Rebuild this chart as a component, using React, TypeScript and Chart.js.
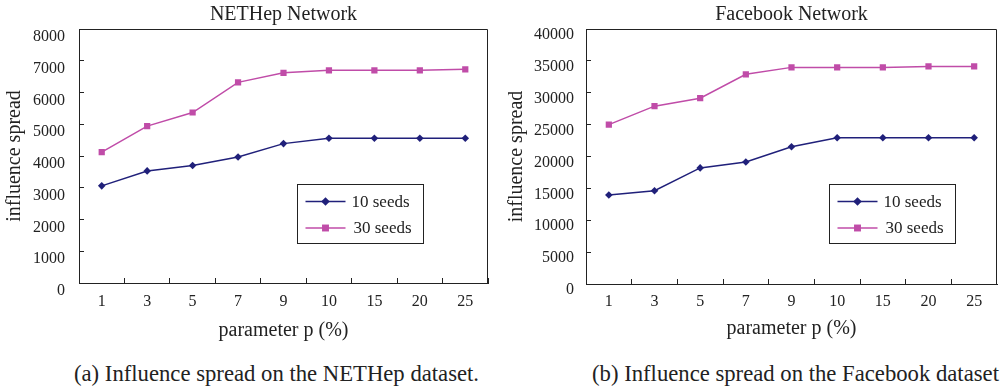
import React, { useEffect, useRef } from 'react';
import { Chart, registerables } from 'chart.js';

Chart.register(...registerables);

const FONT = "'Liberation Serif', 'Times New Roman', serif";
const INK = '#222222';

const categories = ['1', '3', '5', '7', '9', '10', '15', '20', '25'];
const seriesLabels = ['10 seeds', '30 seeds'];
const seriesColors = ['#20207a', '#c04ca8'];

const nethep10 = [3060, 3530, 3700, 3970, 4390, 4560, 4560, 4560, 4560];
const nethep30 = [4120, 4940, 5370, 6320, 6620, 6700, 6700, 6700, 6730];
const facebook10 = [13950, 14630, 18210, 19140, 21530, 22930, 22930, 22930, 22930];
const facebook30 = [25000, 27900, 29150, 32890, 33980, 33980, 33980, 34130, 34130];

const nethepTitle = 'NETHep Network';
const facebookTitle = 'Facebook Network';
const xTitle = 'parameter p (%)';
const yTitle = 'influence spread';
const captionA = '(a) Influence spread on the NETHep dataset.';
const captionB = '(b) Influence spread on the Facebook dataset';

function drawMarker(ctx: CanvasRenderingContext2D, style: string, x: number, y: number, r: number) {
  ctx.beginPath();
  if (style === 'rectRot') {
    ctx.moveTo(x, y - r);
    ctx.lineTo(x + r, y);
    ctx.lineTo(x, y + r);
    ctx.lineTo(x - r, y);
    ctx.closePath();
  } else {
    const s = Math.SQRT1_2 * r;
    ctx.rect(x - s, y - s, 2 * s, 2 * s);
  }
  ctx.fill();
}

const framePlugin = {
  id: 'frameBox',
  afterDatasetsDraw(chart: any) {
    const { ctx, chartArea: a } = chart;
    ctx.save();
    ctx.strokeStyle = INK;
    ctx.lineWidth = 1;
    const t = Math.round(a.top) + 0.5;
    const r = Math.round(a.right) - 0.5;
    ctx.beginPath();
    ctx.moveTo(a.left, t);
    ctx.lineTo(r, t);
    ctx.lineTo(r, a.bottom);
    ctx.stroke();
    ctx.restore();
  },
};

const boxLegendPlugin = {
  id: 'boxLegend',
  afterDraw(chart: any, _args: any, opts: any) {
    const { ctx, chartArea: a } = chart;
    const bx = Math.round(a.left + opts.dx) + 0.5;
    const by = Math.round(a.top + opts.dy) + 0.5;
    ctx.save();
    ctx.fillStyle = '#ffffff';
    ctx.strokeStyle = INK;
    ctx.lineWidth = 1;
    ctx.fillRect(bx, by, opts.w, opts.h);
    ctx.strokeRect(bx, by, opts.w, opts.h);
    chart.data.datasets.forEach((ds: any, i: number) => {
      const y = by + 17 + i * 26.5;
      ctx.strokeStyle = ds.borderColor;
      ctx.lineWidth = ds.borderWidth;
      ctx.beginPath();
      ctx.moveTo(bx + 8, y);
      ctx.lineTo(bx + 48, y);
      ctx.stroke();
      ctx.fillStyle = ds.pointBackgroundColor;
      drawMarker(ctx, ds.pointStyle, bx + 28, y, ds.pointRadius + 0.5);
      ctx.fillStyle = INK;
      ctx.font = `17px ${FONT}`;
      ctx.textBaseline = 'middle';
      ctx.textAlign = 'left';
      ctx.fillText(ds.label, bx + 54 + i * 2, y + 1);
    });
    ctx.restore();
  },
};

type PanelProps = {
  title: string;
  s10: number[];
  s30: number[];
  yMax: number;
  yStep: number;
  width: number;
  padRight: number;
  yWidth: number;
  xHeight: number;
  yLabelPad: number;
  yLabelOffset: number;
  yTitlePad: number;
  xLabelPad: number;
  xTitlePad: number;
  legendDx: number;
  legendDy: number;
};

const HEIGHT = 350;

function Panel(p: PanelProps) {
  const ref = useRef<HTMLCanvasElement | null>(null);
  useEffect(() => {
    if (!ref.current) return;
    const chart = new Chart(ref.current, {
      type: 'line',
      data: {
        labels: categories,
        datasets: [
          {
            label: seriesLabels[0],
            data: p.s10,
            borderColor: seriesColors[0],
            backgroundColor: seriesColors[0],
            pointBackgroundColor: seriesColors[0],
            pointBorderColor: seriesColors[0],
            pointBorderWidth: 0,
            pointStyle: 'rectRot',
            pointRadius: 3.8,
            borderWidth: 1.5,
            tension: 0,
          },
          {
            label: seriesLabels[1],
            data: p.s30,
            borderColor: seriesColors[1],
            backgroundColor: seriesColors[1],
            pointBackgroundColor: seriesColors[1],
            pointBorderColor: seriesColors[1],
            pointBorderWidth: 0,
            pointStyle: 'rect',
            pointRadius: 4.4,
            borderWidth: 1.5,
            tension: 0,
          },
        ],
      },
      options: {
        responsive: false,
        animation: false,
        layout: { padding: { top: 0, left: 0, right: p.padRight, bottom: 0 } },
        plugins: {
          legend: { display: false },
          tooltip: { enabled: false },
          title: {
            display: true,
            text: p.title,
            fullSize: false,
            color: INK,
            font: { family: FONT, size: 20, weight: 'normal' },
            padding: { top: 3, bottom: 2 },
          },
          boxLegend: { dx: p.legendDx, dy: p.legendDy, w: 126, h: 59 },
        } as any,
        scales: {
          x: {
            type: 'category',
            offset: true,
            grid: {
              offset: true,
              drawOnChartArea: false,
              drawTicks: true,
              tickLength: -5,
              color: INK,
              lineWidth: 1,
            },
            border: { color: INK, width: 1 },
            ticks: {
              color: INK,
              font: { family: FONT, size: 16 },
              padding: p.xLabelPad,
              maxRotation: 0,
              autoSkip: false,
            },
            title: {
              display: true,
              text: xTitle,
              color: INK,
              font: { family: FONT, size: 20 },
              padding: { top: 0, bottom: p.xTitlePad },
            },
            afterFit: (s: any) => {
              s.height = p.xHeight;
            },
          },
          y: {
            min: 0,
            max: p.yMax,
            grid: {
              drawOnChartArea: false,
              drawTicks: true,
              tickLength: -5,
              color: INK,
              lineWidth: 1,
            },
            border: { color: INK, width: 1 },
            ticks: {
              stepSize: p.yStep,
              color: INK,
              font: { family: FONT, size: 16 },
              padding: p.yLabelPad,
              labelOffset: p.yLabelOffset,
              callback: (v: any) => String(v),
            },
            title: {
              display: true,
              text: yTitle,
              color: INK,
              font: { family: FONT, size: 20 },
              padding: { top: p.yTitlePad, bottom: 0 },
            },
            afterFit: (s: any) => {
              s.width = p.yWidth;
            },
          },
        },
      },
      plugins: [framePlugin, boxLegendPlugin],
    } as any);
    return () => chart.destroy();
  }, []);
  return <canvas ref={ref} width={p.width} height={HEIGHT} style={{ display: 'block' }} />;
}

const captionStyle: React.CSSProperties = {
  position: 'absolute',
  top: 362,
  fontFamily: FONT,
  fontSize: 22.7,
  lineHeight: '24px',
  whiteSpace: 'nowrap',
  color: INK,
};

export default function App() {
  return (
    <div
      style={{
        position: 'fixed',
        left: 0,
        top: 0,
        width: 1004,
        height: 389,
        background: '#ffffff',
        overflow: 'hidden',
      }}
    >
      <div style={{ position: 'absolute', left: 0, top: 0 }}>
        <Panel
          title={nethepTitle}
          s10={nethep10}
          s30={nethep30}
          yMax={8000}
          yStep={1000}
          width={500}
          padRight={12}
          yWidth={79}
          xHeight={67}
          yLabelPad={19}
          yLabelOffset={8}
          yTitlePad={3}
          xLabelPad={14}
          xTitlePad={7.3}
          legendDx={218}
          legendDy={155}
        />
      </div>
      <div style={{ position: 'absolute', left: 500, top: 0 }}>
        <Panel
          title={facebookTitle}
          s10={facebook10}
          s30={facebook30}
          yMax={40000}
          yStep={5000}
          width={504}
          padRight={7}
          yWidth={86}
          xHeight={66}
          yLabelPad={17}
          yLabelOffset={6}
          yTitlePad={4.5}
          xLabelPad={13}
          xTitlePad={9}
          legendDx={243}
          legendDy={155}
        />
      </div>
      <div style={{ ...captionStyle, left: 74 }}>{captionA}</div>
      <div style={{ ...captionStyle, left: 592 }}>{captionB}</div>
    </div>
  );
}
